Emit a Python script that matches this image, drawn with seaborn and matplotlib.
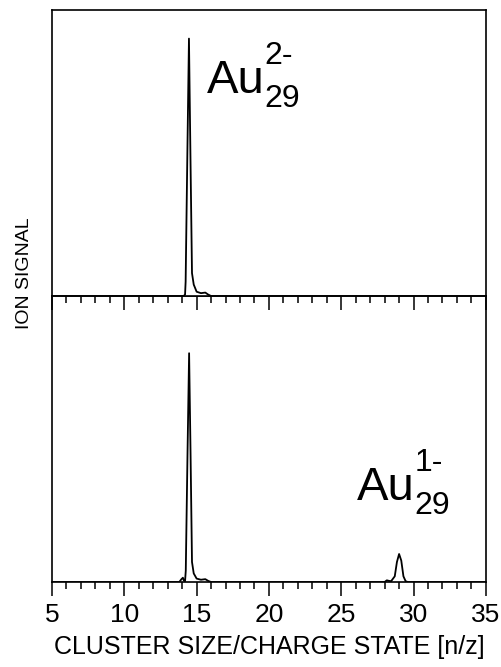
import numpy as np
import pandas as pd
import matplotlib
matplotlib.use("Agg")
import matplotlib.pyplot as plt
import seaborn as sns
from matplotlib.ticker import MultipleLocator

# Trace (Au29 2-), signal in fraction of panel height
top_x = [5, 14.1, 14.2, 14.24, 14.36, 14.47, 14.57, 14.68, 14.8, 15.0, 15.3, 15.6, 15.8, 16.0, 35]
top_y = [0, 0, 0.005, 0.05, 0.5, 0.90, 0.5, 0.08, 0.04, 0.015, 0.01, 0.012, 0.005, 0, 0]

# Trace (Au29 2- and Au29 1-)
bot_x = [5, 13.8, 13.95, 14.05, 14.12, 14.2, 14.25, 14.37, 14.48, 14.58, 14.68, 14.8, 15.0,
         15.3, 15.6, 15.8, 16.0, 28.0, 28.15, 28.3, 28.45, 28.7, 28.85, 29.0, 29.15, 29.3,
         29.45, 29.6, 35]
bot_y = [0, 0, 0.01, 0.015, 0.005, 0.003, 0.04, 0.45, 0.80, 0.45, 0.07, 0.03, 0.012,
         0.008, 0.01, 0.004, 0, 0, 0.006, 0.004, 0.003, 0.02, 0.07, 0.098, 0.075, 0.02,
         0.003, 0, 0]

x_ticks_major = [5, 10, 15, 20, 25, 30, 35]

sns.set_style("ticks")
plt.rcParams['font.family'] = ['Liberation Sans', 'DejaVu Sans']
plt.rcParams['text.color'] = 'black'
plt.rcParams['axes.labelcolor'] = 'black'
plt.rcParams['xtick.color'] = 'black'

fig = plt.figure(figsize=(5.01, 6.67), dpi=100)
ax_top = fig.add_axes([0.1038, 0.5562, 0.866, 0.4288])
ax_bot = fig.add_axes([0.1038, 0.1274, 0.866, 0.4288])
ax_top.set_zorder(3)

df_top = pd.DataFrame({"x": top_x, "y": top_y})
df_bot = pd.DataFrame({"x": bot_x, "y": bot_y})

sns.lineplot(data=df_top, x="x", y="y", ax=ax_top, color="black", linewidth=1.3,
             estimator=None, sort=False)
sns.lineplot(data=df_bot, x="x", y="y", ax=ax_bot, color="black", linewidth=1.3,
             estimator=None, sort=False)

for ax in (ax_top, ax_bot):
    ax.set_xlim(5, 35)
    ax.set_ylim(0, 1)
    ax.set_xticks(x_ticks_major)
    ax.xaxis.set_minor_locator(MultipleLocator(1))
    ax.set_yticks([])
    ax.set_ylabel("")
    ax.set_xlabel("")
    ax.tick_params(axis="x", which="major", direction="out", length=10, width=1.1,
                   color="black", labelcolor="black", labelsize=19, pad=5)
    ax.tick_params(axis="x", which="minor", direction="out", length=5, width=1.1,
                   color="black")
    for s in ax.spines.values():
        s.set_visible(True)
        s.set_color("black")
        s.set_linewidth(1.2)

ax_top.tick_params(axis="x", labelbottom=False)
ax_bot.set_xlabel("CLUSTER SIZE/CHARGE STATE [n/z]", fontsize=18, labelpad=6,
                  color="black")
fig.text(25 / 501, 1 - 273 / 667, "ION SIGNAL", rotation=90, fontsize=14,
         ha="center", va="center", color="black")


def ion_label(ax, x, y, charge):
    base = ax.text(x, y, "Au", fontsize=34, ha="left", va="baseline", color="black")
    ax.annotate(charge, xy=(1.0, 0.72), xycoords=base, fontsize=23,
                ha="left", va="bottom", color="black")
    ax.annotate("29", xy=(1.0, 0.08), xycoords=base, fontsize=23,
                ha="left", va="center", color="black")


ion_label(ax_top, 15.71, 0.71, "2-")
ion_label(ax_bot, 26.08, 0.287, "1-")

fig.savefig("out.png", dpi=100)
